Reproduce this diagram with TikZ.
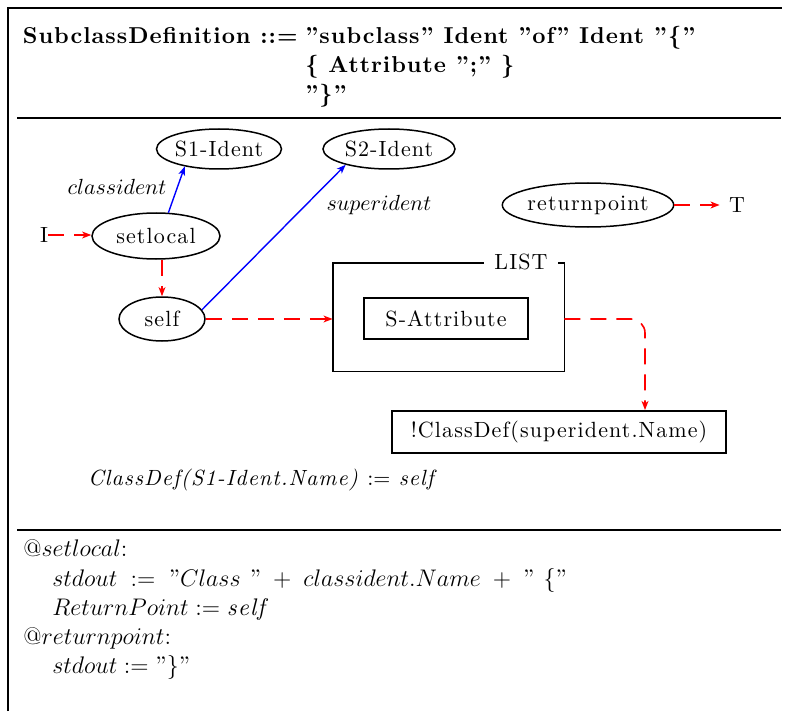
\documentclass[tikz,border=0pt]{standalone}
\usepackage[no-math]{fontspec}
\setmainfont{lmroman10-regular.otf}[LetterSpace=5,BoldFont=lmroman10-bold.otf,ItalicFont=lmroman10-italic.otf,BoldItalicFont=lmroman10-bolditalic.otf]
\usetikzlibrary{shapes.geometric,arrows.meta,calc}
\newcommand\dq{\mbox{''}}
\begin{document}
\begin{tikzpicture}[x=0.5pt,y=-0.5pt,
  every node/.style={font=\fontsize{11}{14.5}\selectfont},
  ell/.style={draw,ellipse,line width=0.75pt,inner sep=0pt},
  box/.style={draw,rectangle,line width=0.9pt,inner sep=0pt},
  frame/.style={line width=1pt},
  tip/.style={-{Stealth[length=4.5pt,width=3.4pt,inset=1.2pt]}},
  redarr/.style={tip,red,line width=0.8pt,dash pattern=on 8pt off 5pt},
  bluearr/.style={tip,blue,line width=0.7pt},
  lbl/.style={inner sep=0pt},
  txt/.style={anchor=base west,inner sep=0pt},
  ttl/.style={txt,font=\fontsize{11.5}{14.5}\selectfont\bfseries\addfontfeatures{LetterSpace=4.2}},
  code/.style={txt,font=\fontsize{12}{14.5}\selectfont}]
\useasboundingbox (0,0) rectangle (791,711);
% frame
\draw[frame] (8,711) -- (8,8) -- (782,8);
\draw[frame] (17,118) -- (781,118);
\draw[frame] (17,530) -- (781,530);
% title
\node[ttl,anchor=base east] (tl) at (298,44) {SubclassDefinition ::=};
\node[ttl] (t1) at (305,44) {''subclass'' Ident ''of'' Ident ''\{''};
\node[ttl] (t2) at (305,73) {\{ Attribute '';'' \}};
\node[ttl] (t3) at (305,102) {''\}''};
% nodes
\node[ell,minimum width=60pt,minimum height=20pt] (s1) at (219,149) {S1-Ident};
\node[ell,minimum width=66pt,minimum height=20pt] (s2) at (389,149) {S2-Ident};
\node[ell,minimum width=64pt,minimum height=23pt] (setlocal) at (156,236) {setlocal};
\node[ell,minimum width=43pt,minimum height=22pt] (self) at (162,319) {self};
\node[ell,minimum width=83pt,minimum height=22pt] (rp) at (588,205) {returnpoint};
\node[lbl] (I) at (44,235) {I};
\node[lbl] (T) at (737,205) {T};
\node[lbl] (classident) at (117,187) {$classident$};
\node[lbl] (superident) at (379,205) {$superident$};
\node[minimum width=115.5pt,minimum height=54pt,inner sep=0pt] (list) at (448.5,317) {};
\draw[line width=0.9pt] (list.north west) rectangle (list.south east);
\node[fill=white,inner xsep=5pt,inner ysep=1pt] (listlbl) at (521,262) {LIST};
\node[box,minimum width=82pt,minimum height=20.5pt] (sattr) at (446,318.5) {S-Attribute};
\node[box,minimum width=167pt,minimum height=21pt] (cd) at (559,432) {!ClassDef(superident.Name)};
\node[lbl] (assign) at (263,480) {\textit{ClassDef(S1-Ident.Name)} $:=$ \textit{self}};
% connectors
\draw[redarr] (I.east) -- (setlocal.west |- I.east);
\draw[bluearr] (setlocal.62) -- (s1.207);
\draw[redarr] (self.north |- setlocal.south) -- (self.north);
\draw[bluearr] (self.13) -- (s2.200);
\draw[redarr,shorten >=4.5pt] (rp.east) -- (T.west);
\draw[redarr] (self.east) -- (self.east -| list.west);
\coordinate (turn) at (645,319);
\draw[redarr,rounded corners=7pt] (turn -| list.east) -- (turn) -- (turn |- cd.north);
% bottom text
\node[code] (b1) at (23,556) {$@setlocal{:}$};
\node[code] (b2) at (52,586) {$stdout \;:=\; \dq Class\ \dq\;+\;classident.Name\;+\;\dq\ \{\dq$};
\node[code] (b3) at (52,615) {$ReturnPoint := \textit{self}$};
\node[code] (b4) at (23,644) {$@returnpoint{:}$};
\node[code] (b5) at (52,673) {$stdout := \dq\}\dq$};
\end{tikzpicture}
\end{document}
